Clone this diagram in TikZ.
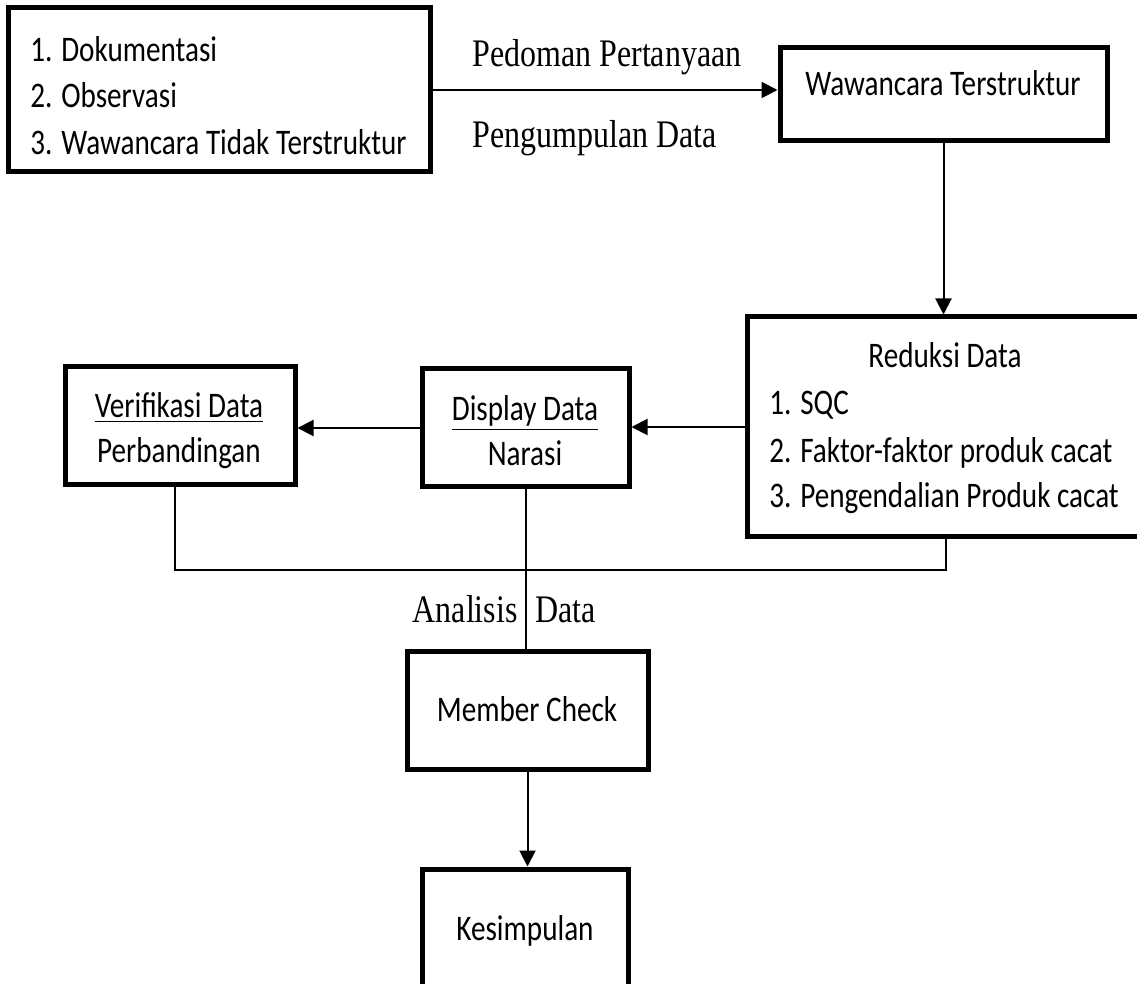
\documentclass[tikz,border=0pt]{standalone}
\usepackage{fontspec}
\setmainfont{Carlito}[FakeStretch=0.81]
\newfontfamily\serifc{Liberation Serif}[FakeStretch=0.82]
\usetikzlibrary{arrows.meta,calc}
\tikzset{
  box/.style={draw=black, line width=2.5pt, rectangle, inner sep=0pt},
  txt/.style={inner sep=0pt, font=\fontsize{18}{23}\selectfont},
  stxt/.style={inner sep=0pt, font=\serifc\fontsize{19.5}{24}\selectfont},
  conn/.style={line width=1pt, draw=black},
  arr/.style={conn, -{Triangle[length=8pt,width=8pt]}},
}
\begin{document}
\begin{tikzpicture}[x=0.5pt,y=-0.5pt]
\clip (0,0) rectangle (1137,984);
\fill[white] (0,0) rectangle (1137,984);
% boxes
\node[box, minimum width=211pt, minimum height=82pt] (b1) at (219,90) {};
\node[box, minimum width=163.5pt, minimum height=46.5pt] (b2) at (943.5,94.5) {};
\node[box, minimum width=199pt, minimum height=110pt] (b3) at (946,427) {};
\node[box, minimum width=103.5pt, minimum height=59pt] (disp) at (525.5,428) {};
\node[box, minimum width=115pt, minimum height=59pt] (verif) at (180,426) {};
\node[box, minimum width=120.5pt, minimum height=58.5pt] (mc) at (527.5,710.5) {};
\node[box, minimum width=103pt, minimum height=70pt] (kes) at (525,939) {};
% texts
\node[txt, anchor=base west] (t11) at (30,62) {1. Dokumentasi};
\node[txt, anchor=base west] (t12) at (30,108) {2. Observasi};
\node[txt, anchor=base west] (t13) at (30,155) {3. Wawancara Tidak Terstruktur};
\node[txt, anchor=base] (t2) at (943,96) {Wawancara Terstruktur};
\node[txt, anchor=base] (t30) at (945,368) {Reduksi Data};
\node[txt, anchor=base west] (t31) at (769,415) {1. SQC};
\node[txt, anchor=base west] (t32) at (769,463) {2. Faktor-faktor produk cacat};
\node[txt, anchor=base west] (t33) at (769,508) {3. Pengendalian Produk cacat};
\node[txt, anchor=base] (td1) at (525,421) {\underline{Display Data}};
\node[txt, anchor=base] (td2) at (525,466) {Narasi};
\node[txt, anchor=base] (tv1) at (179,418) {\underline{Verifikasi Data}};
\node[txt, anchor=base] (tv2) at (179,463) {Perbandingan};
\node[txt, anchor=base] (tm) at (527,721) {Member Check};
\node[txt, anchor=base] (tk) at (525,940) {Kesimpulan};
\node[stxt, anchor=base west] (lp1) at (472,67) {Pedoman Pertanyaan};
\node[stxt, anchor=base west] (lp2) at (472,148) {Pengumpulan Data};
\node[stxt, anchor=base east] (la1) at (518,623) {Analisis};
\node[stxt, anchor=base west] (la2) at (535,623) {Data};
% connectors
\draw[arr] (b1.east) -- (b1.east -| b2.west);
\draw[arr] (b2.south) -- (b2.south |- b3.north);
\draw[arr] (b3.west) -- (b3.west -| disp.east);
\draw[arr] (disp.west) -- (disp.west -| verif.east);
\coordinate (jl) at ($(verif.south |- 0,570)+(-5,0)$);
\draw[conn, line width=1.3pt] ($(verif.south)+(-5,0)$) -- (jl) -- (jl -| b3.south) -- (b3.south);
\draw[conn] (disp.south) -- (disp.south |- mc.north);
\draw[arr] (mc.south) -- (mc.south |- kes.north);
\end{tikzpicture}
\end{document}
